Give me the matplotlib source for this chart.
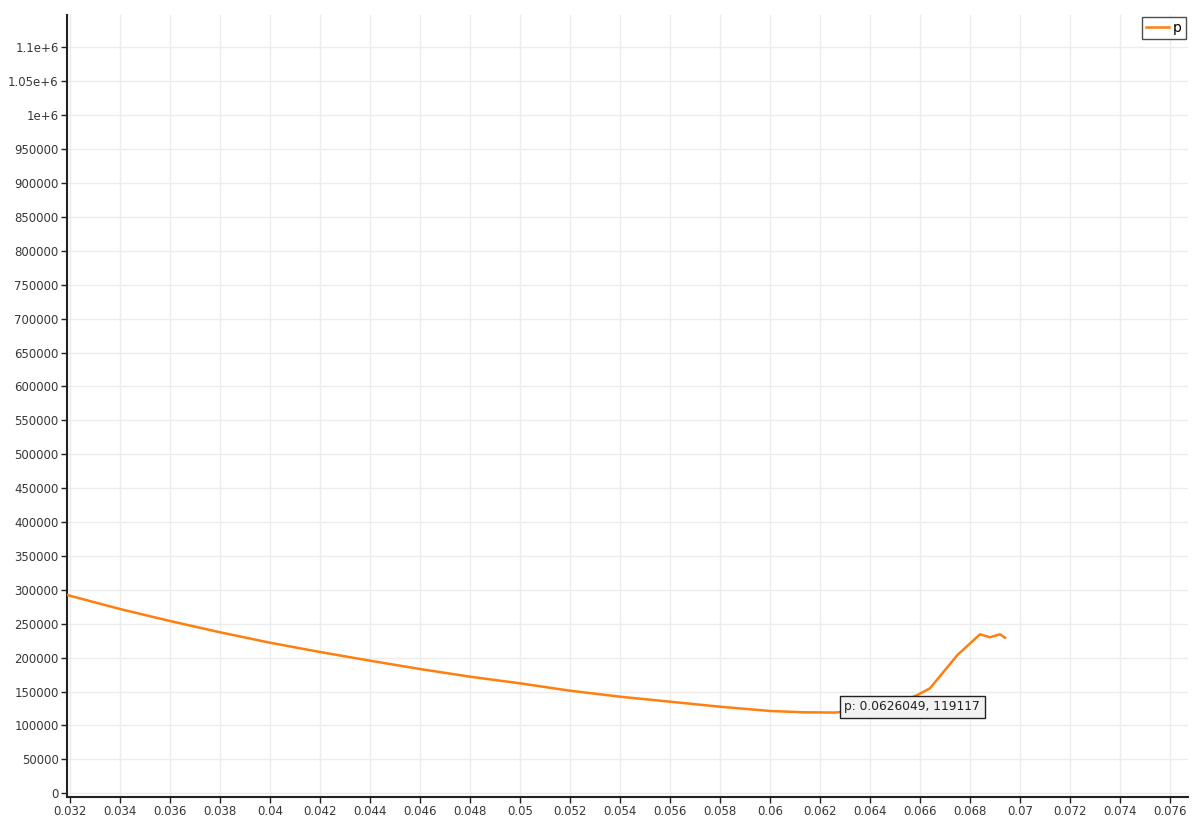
import matplotlib
matplotlib.use("Agg")
import matplotlib.pyplot as plt
from matplotlib.ticker import FixedLocator, FixedFormatter

# Data
x_vals = [0.03188, 0.034, 0.036, 0.038, 0.040, 0.042, 0.044, 0.046, 0.048, 0.050,
          0.052, 0.054, 0.056, 0.058, 0.060, 0.0613, 0.0626049, 0.0640, 0.0652,
          0.0659, 0.0664, 0.0675, 0.0684, 0.0688, 0.0692, 0.0694]
p_vals = [292500, 271800, 254100, 237500, 222100, 208400, 195600, 183300, 172000, 162200,
          151300, 142500, 135100, 127700, 121400, 119500, 119117, 123500, 134000,
          145000, 154900, 204000, 234500, 230100, 234500, 229500]

series_name = "p"
tooltip_text = "p: 0.0626049, 119117"

x_ticks = [0.032, 0.034, 0.036, 0.038, 0.04, 0.042, 0.044, 0.046, 0.048, 0.05, 0.052,
           0.054, 0.056, 0.058, 0.06, 0.062, 0.064, 0.066, 0.068, 0.07, 0.072, 0.074, 0.076]
x_tick_labels = ["0.032", "0.034", "0.036", "0.038", "0.04", "0.042", "0.044", "0.046",
                 "0.048", "0.05", "0.052", "0.054", "0.056", "0.058", "0.06", "0.062",
                 "0.064", "0.066", "0.068", "0.07", "0.072", "0.074", "0.076"]
y_ticks = [0, 50000, 100000, 150000, 200000, 250000, 300000, 350000, 400000, 450000,
           500000, 550000, 600000, 650000, 700000, 750000, 800000, 850000, 900000,
           950000, 1000000, 1050000, 1100000]
y_tick_labels = ["0", "50000", "100000", "150000", "200000", "250000", "300000", "350000",
                 "400000", "450000", "500000", "550000", "600000", "650000", "700000",
                 "750000", "800000", "850000", "900000", "950000", "1e+6", "1.05e+6", "1.1e+6"]

plt.rcParams['font.family'] = ['DejaVu Sans']

fig = plt.figure(figsize=(11.92, 8.17), dpi=100)
ax = fig.add_axes([67/1192, 1 - 797/817, (1188 - 67)/1192, (797 - 15)/817])

line_color = "#ff7f0e"
ax.plot(x_vals, p_vals, color=line_color, linewidth=1.8, label=series_name, zorder=3)

ax.set_xlim(0.03188, 0.07672)
ax.set_ylim(-5460, 1147900)

ax.xaxis.set_major_locator(FixedLocator(x_ticks))
ax.xaxis.set_major_formatter(FixedFormatter(x_tick_labels))
ax.yaxis.set_major_locator(FixedLocator(y_ticks))
ax.yaxis.set_major_formatter(FixedFormatter(y_tick_labels))

ax.grid(True, color="#ececec", linewidth=1.0, zorder=0)
ax.set_axisbelow(True)

for s in ["top", "right"]:
    ax.spines[s].set_visible(False)
for s in ["left", "bottom"]:
    ax.spines[s].set_color("#222222")
    ax.spines[s].set_linewidth(1.5)

ax.tick_params(axis="both", direction="out", length=4, width=1, color="#222222",
               labelsize=8.5, labelcolor="#383838", pad=2)

leg = ax.legend(loc="upper right", bbox_to_anchor=(1.0, 1.0), frameon=True,
                fancybox=False, edgecolor="#222222", fontsize=10,
                handlelength=1.6, handletextpad=0.3, borderpad=0.3,
                borderaxespad=0.15)
leg.get_frame().set_linewidth(1.0)

# Tooltip
ax.text(0.06297, 127300, tooltip_text, fontsize=8.8, color="#222222",
        ha="left", va="center", zorder=5,
        bbox=dict(boxstyle="square,pad=0.38", facecolor="#f2f2f2",
                  edgecolor="#222222", linewidth=1.0))

fig.savefig("out.png", dpi=100)
